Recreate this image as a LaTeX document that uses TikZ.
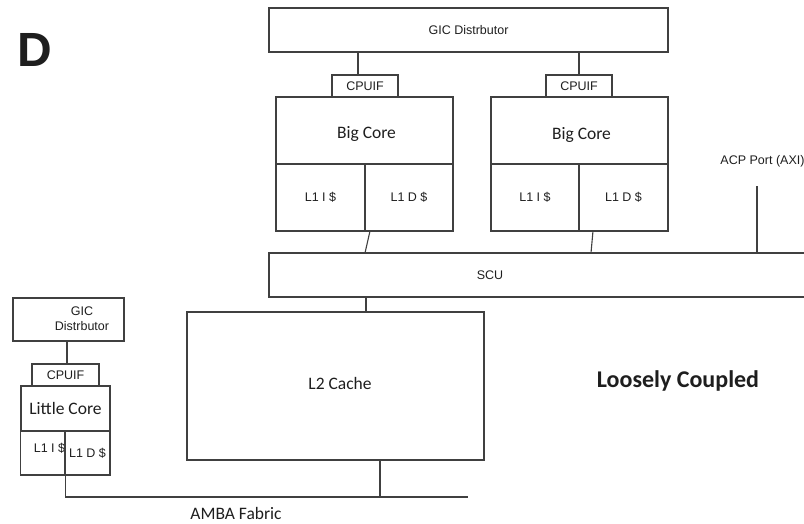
\documentclass[tikz,border=0pt]{standalone}
\usepackage{fontspec}
\setmainfont{Liberation Sans}
\newfontfamily\corefont{Carlito}
\usepackage{tikz}
\definecolor{wire}{RGB}{64,64,64}
\definecolor{ink}{RGB}{30,30,30}

\begin{document}
\begin{tikzpicture}[x=1pt, y=-1pt, line width=1.1pt, draw=wire,
  blk/.style={draw=wire, inner sep=0pt, outer sep=0pt, text=ink, font=\fontsize{12.5}{15}\selectfont},
  corelbl/.style={font=\corefont\fontsize{17.5}{20}\selectfont}]
  \useasboundingbox (0,0) rectangle (804,523);
  \node[text=ink, font=\bfseries\fontsize{48}{50}\selectfont] (tag) at (35,50) {D};

  % big cluster
  \node[blk, minimum width=399pt, minimum height=44pt] (gicA) at (468.5,30) {GIC Distrbutor};
  \node[blk, minimum width=66pt, minimum height=22pt] (cpuA) at (365,86) {CPUIF};
  \node[blk, minimum width=66pt, minimum height=22pt] (cpuB) at (579,86) {CPUIF};
  \node[blk, corelbl, text height=16pt, text depth=0pt, minimum width=177pt, minimum height=67pt] (bigA) at (364.5,130.5) {\hspace*{4pt}Big Core};
  \node[blk, minimum width=89pt, minimum height=67pt] (iA) at (320.5,197.5) {L1 I \$};
  \node[blk, minimum width=88pt, minimum height=67pt] (dA) at (409,197.5) {L1 D \$};
  \node[blk, corelbl, text height=18pt, text depth=0pt, minimum width=177pt, minimum height=67pt] (bigB) at (579.5,130.5) {\hspace*{4pt}Big Core};
  \node[blk, minimum width=88pt, minimum height=67pt] (iB) at (535,197.5) {L1 I \$};
  \node[blk, minimum width=89pt, minimum height=67pt] (dB) at (623.5,197.5) {L1 D \$};
  \node[blk, draw=none, minimum width=442pt, minimum height=44pt] (scu) at (490,275) {SCU};
  \draw (scu.north west) rectangle ([xshift=120pt]scu.south east);
  \node[blk, draw=none] (acp) at (762.5,161) {ACP Port (AXI)};
  \node[blk, corelbl, minimum width=297pt, minimum height=148pt] (l2) at (335.5,386) {\hspace*{9pt}\raisebox{5pt}{L2 Cache}};

  % little cluster
  \node[blk, minimum width=111pt, minimum height=43pt] (gicL) at (68.5,319.5)
    {\hspace*{27pt}\begin{tabular}{@{}c@{}}GIC\\[0pt]Distrbutor\end{tabular}};
  \node[blk, minimum width=67pt, minimum height=22pt] (cpuL) at (65.5,375) {CPUIF};
  \node[blk, corelbl, minimum width=89pt, minimum height=45pt] (little) at (65.5,408.5) {\raisebox{-1.5pt}{Little Core}};
  \node[blk, minimum width=44pt, minimum height=44pt] (iL) at (43,453) {\hspace*{13pt}\raisebox{11pt}{L1 I \$}};
  \node[blk, minimum width=45pt, minimum height=44pt] (dL) at (87.5,453) {L1 D \$};

  \node[text=ink, corelbl] (amba) at (236,513) {AMBA Fabric};
  \node[text=ink, font=\corefont\bfseries\fontsize{24}{27}\selectfont] (mode) at (678,381) {Loosely Coupled};

  % wires
  \coordinate (gA) at ([xshift=-7pt]cpuA.north);
  \draw (gA) -- (gA |- gicA.south);
  \draw (cpuB.north) -- (gicA.south -| cpuB.north);
  \draw ([xshift=5pt]dA.south west) -- (scu.north -| dA.south west);
  \coordinate (sB) at ([xshift=12pt]dB.south west);
  \draw ([xshift=14pt]dB.south west) -- (sB |- scu.north);
  \coordinate (acpin) at (757,186);
  \draw (acpin) -- (acpin |- scu.north);
  \coordinate (l2in) at ([xshift=30.5pt]l2.north);
  \draw (l2in) -- (l2in |- scu.south);
  \coordinate (ambaR) at (468,497);
  \coordinate (l2out) at ([xshift=44.5pt]l2.south);
  \draw (l2out) -- (l2out |- ambaR);
  \draw (iL.south east) |- (ambaR);
  \coordinate (gL) at ([xshift=1.5pt]cpuL.north);
  \draw (gL) -- (gL |- gicL.south);
\end{tikzpicture}
\end{document}
